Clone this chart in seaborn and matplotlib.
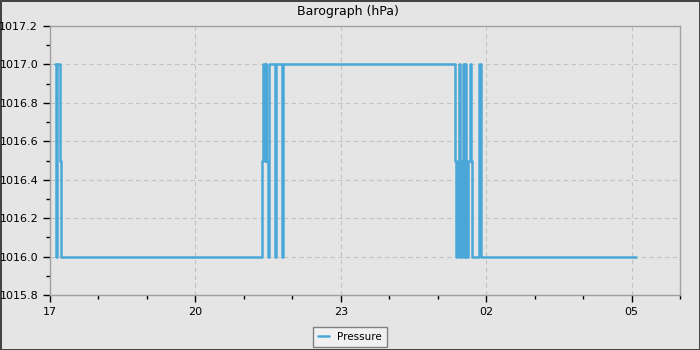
import matplotlib
matplotlib.use("Agg")
import matplotlib.pyplot as plt
import matplotlib.dates as mdates
from matplotlib.ticker import MultipleLocator, FormatStrFormatter
import seaborn as sns
import pandas as pd
import numpy as np

# Change points: minutes after 17:00, pressure (hPa)
minutes = [6, 7, 9, 13, 14,
           263, 264, 266, 267, 268, 270, 271, 278, 280, 287, 288,
           502, 503, 505, 506, 507, 508, 510, 511, 513, 514, 515,
           518, 520, 521, 523, 531, 533, 725]
pressure = [1017.0, 1016.0, 1017.0, 1016.5, 1016.0,
            1016.5, 1017.0, 1016.5, 1017.0, 1016.5, 1016.0, 1017.0, 1016.0, 1017.0, 1016.0, 1017.0,
            1016.5, 1016.0, 1016.5, 1017.0, 1016.5, 1016.0, 1016.5, 1017.0, 1016.0, 1017.0, 1016.0,
            1016.5, 1017.0, 1016.5, 1016.0, 1017.0, 1016.0, 1016.0]
tick_hours = ["17", "20", "23", "02", "05"]

start = pd.Timestamp("2024-01-01 17:00")
df = pd.DataFrame({"time": start + pd.to_timedelta(minutes, unit="min"),
                   "Pressure": pressure})

sns.set_style("ticks")
plt.rcParams["font.family"] = ["DejaVu Sans"]

bg = "#e5e5e5"
fig = plt.figure(figsize=(7, 3.5), dpi=100, facecolor=bg)
fig.patch.set_edgecolor("#444444")
fig.patch.set_linewidth(2)
ax = fig.add_axes([50/700, 1-295/350, 630/700, 269/350])
ax.set_facecolor(bg)

sns.lineplot(data=df, x="time", y="Pressure", ax=ax, color="#4aa8d8",
             linewidth=1.8, drawstyle="steps-post", label="Pressure", legend=False)

ax.set_xlim(start, start + pd.Timedelta(hours=13))
ax.set_ylim(1015.8, 1017.2)
ax.xaxis.set_major_locator(mdates.HourLocator(byhour=[17, 20, 23, 2, 5]))
ax.xaxis.set_major_formatter(mdates.DateFormatter("%H"))
ax.xaxis.set_minor_locator(mdates.HourLocator())
ax.yaxis.set_major_locator(MultipleLocator(0.2))
ax.yaxis.set_minor_locator(MultipleLocator(0.1))
ax.yaxis.set_major_formatter(FormatStrFormatter("%.1f"))
ax.set_xlabel("")
ax.set_ylabel("")
ax.grid(True, which="major", linestyle=(0, (4, 3)), color="#c2c2c2", linewidth=0.8)
ax.tick_params(axis="both", which="major", length=5, width=1, color="black",
               labelsize=8, labelcolor="black", direction="out")
ax.tick_params(axis="both", which="minor", length=3, width=1, color="black", direction="out")
for s in ax.spines.values():
    s.set_color("#a0a0a0")
    s.set_linewidth(1)

fig.text(0.497, 1-12/350, "Barograph (hPa)", ha="center", va="center",
         fontsize=9, color="black")
h, l = ax.get_legend_handles_labels()
leg = fig.legend(h, l, loc="center", bbox_to_anchor=(0.5, 1-337/350), fontsize=7.5,
                 frameon=True, fancybox=False, handlelength=1.0, borderpad=0.5,
                 facecolor="#f0f0f0", edgecolor="#808080", framealpha=1,
                 labelcolor="black")

fig.savefig("out.png", dpi=100, facecolor=fig.get_facecolor(), edgecolor=fig.get_edgecolor())
